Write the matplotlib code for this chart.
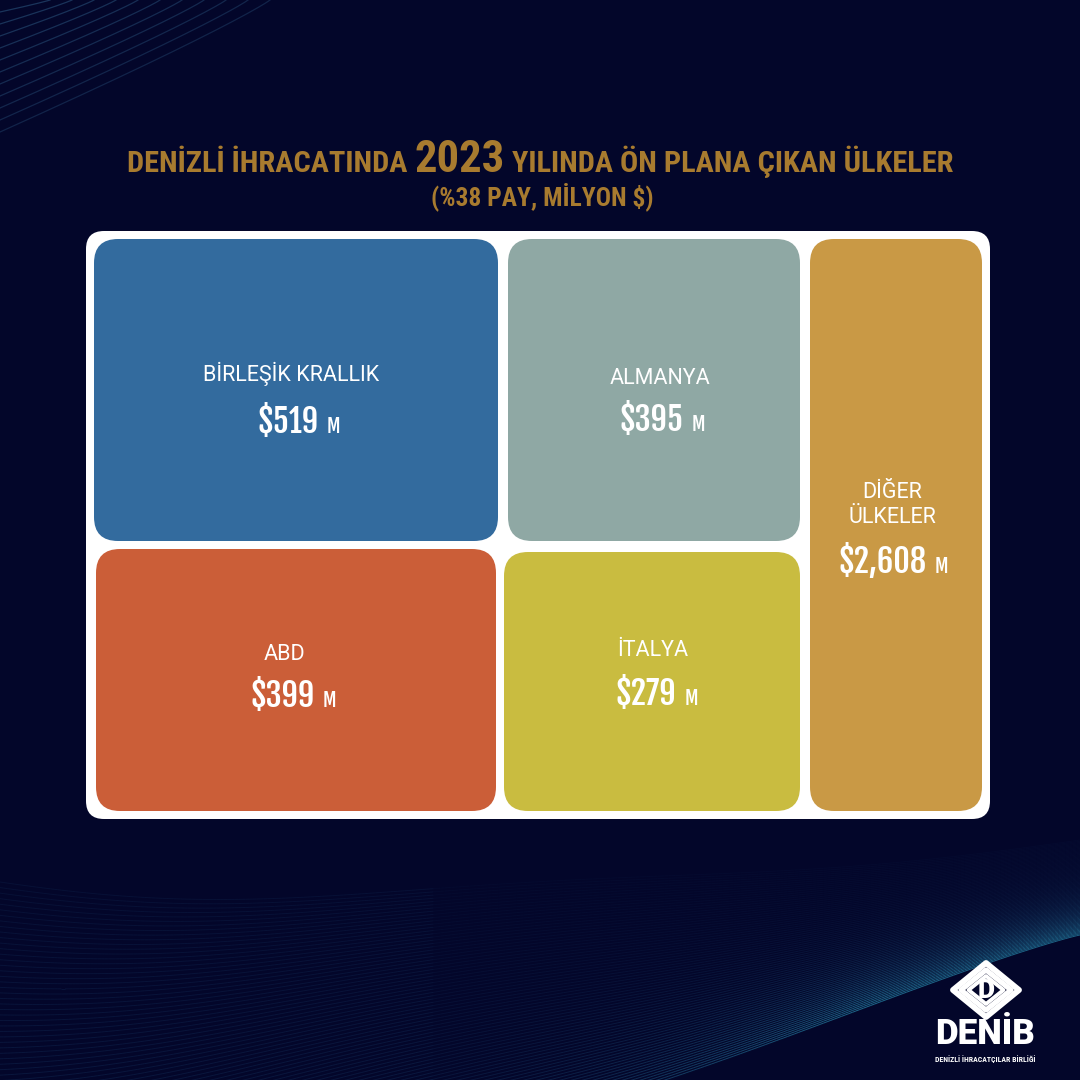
import numpy as np
import matplotlib
matplotlib.use("Agg")
import matplotlib.pyplot as plt
from matplotlib.patches import FancyBboxPatch, Polygon
from matplotlib.collections import LineCollection
from matplotlib.colors import to_rgb

# ---- data ----
countries = ["BİRLEŞİK KRALLIK", "ALMANYA", "ABD", "İTALYA", "DİĞER\nÜLKELER"]
values = [519, 395, 399, 279, 2608]
colors = ["#336b9e", "#8fa8a4", "#cb5e38", "#c9bc40", "#c99945"]

title_left = "DENİZLİ İHRACATINDA "
title_year = "2023"
title_right = " YILINDA ÖN PLANA ÇIKAN ÜLKELER"
subtitle = "(%38 PAY, MİLYON $)"

# ---- layout (pixel boxes: x0, y0(top), x1, y1(bottom)) ----
cell_boxes = [(94, 239, 498, 541), (508, 239, 800, 541), (96, 549, 496, 811),
              (504, 552, 800, 811), (810, 239, 982, 811)]
label_pos = [(291, 374), (660, 379), (284, 654), (653, 651), (892, 505)]
value_pos = [(299, 418), (662, 416), (293, 692), (657, 690), (893, 558)]

BG = "#03062a"
fig = plt.figure(figsize=(10.8, 10.8), dpi=100, facecolor=BG)
ax = fig.add_axes([0, 0, 1, 1])
ax.set_xlim(0, 1080)
ax.set_ylim(0, 1080)
ax.axis("off")
ax.set_facecolor(BG)

def Y(y):
    return 1080 - y

# ---- decorative background waves (bottom sheet) ----
xs = np.linspace(0, 1080, 300)
u = xs / 1080
top = 882 + 60 * u - 102 * u ** 2
span = 95 + 320 * (1 - u) ** 1.2
dim = np.array(to_rgb("#1d4674"))
bright = np.array(to_rgb("#2a92b4"))
segs, cols = [], []
n = 80
for i in range(n):
    t = i / (n - 1)
    ys = top + t * span + 12 * np.sin(2 * np.pi * u * 1.3 + t * 2) * (1 - u)
    pts = np.column_stack([xs, Y(ys)])
    s = np.stack([pts[:-1], pts[1:]], axis=1)
    um = (u[:-1] + u[1:]) / 2
    w = np.clip((um - 0.3) / 0.5, 0, 1) ** 1.5 * t ** 2.5
    c = dim[None, :] * (1 - w[:, None]) + bright[None, :] * w[:, None]
    a = 0.16 + 0.22 * t * (1 - um) + 0.5 * w
    a = a * np.clip(1 - (1 - t) * 0.6 * (um > 0.4), 0.3, 1)
    segs.append(s)
    cols.append(np.column_stack([c, np.clip(a, 0, 1)]))
ax.add_collection(LineCollection(np.concatenate(segs), colors=np.concatenate(cols),
                                 linewidths=0.7, zorder=1))

# ---- top-left corner arcs ----
for k in range(11):
    yk = 12 + 12 * k
    xk = 50 + 22 * k
    xa = np.linspace(0, xk, 150)
    ya = yk * (1 - xa / xk) ** 0.92
    ax.plot(xa, Y(ya), color="#2d5b84", lw=0.9, alpha=0.55 - 0.02 * k, zorder=1)

# ---- title ----
tcol = "#a87b2f"
fig.canvas.draw()
r = fig.canvas.get_renderer()
kw = dict(fontfamily="Roboto Condensed", fontweight="bold", color=tcol, va="baseline", zorder=5)
base_fs = 20
t1 = ax.text(0, 0, title_left, fontsize=base_fs, **kw)
t2 = ax.text(0, 0, title_year, fontsize=base_fs * 1.47, **kw)
t3 = ax.text(0, 0, title_right, fontsize=base_fs, **kw)
ws = [t.get_window_extent(renderer=r).width for t in (t1, t2, t3)]
scale = 828 / sum(ws)
for t in (t1, t2, t3):
    t.set_fontsize(t.get_fontsize() * scale)
ws = [t.get_window_extent(renderer=r).width for t in (t1, t2, t3)]
x = 540 - sum(ws) / 2
for t, w in zip((t1, t2, t3), ws):
    t.set_position((x, Y(172)))
    x += w
st = ax.text(542, Y(197), subtitle, fontsize=base_fs * scale, ha="center", va="center",
             fontfamily="Roboto Condensed", fontweight="bold", color=tcol, zorder=5)
sw = st.get_window_extent(renderer=r).width
st.set_fontsize(st.get_fontsize() * 222 / sw)

# ---- white panel ----
px0, py0, px1, py1 = 86, 231, 990, 819
ax.add_patch(FancyBboxPatch((px0 + 18, Y(py1) + 18), px1 - px0 - 36, py1 - py0 - 36,
                            boxstyle="round,pad=18", fc="white", ec="none", zorder=2))

# ---- cells ----
rad = 24
for (x0, y0, x1, y1), c in zip(cell_boxes, colors):
    ax.add_patch(FancyBboxPatch((x0 + rad, Y(y1) + rad), x1 - x0 - 2 * rad, y1 - y0 - 2 * rad,
                                boxstyle=f"round,pad={rad}", fc=c, ec="none", zorder=3))

# value font size so that "$519" is ~61 px wide
probe = ax.text(0, 0, "$519", fontsize=25, fontfamily="Fjalla One")
vfs = 25 * 61 / probe.get_window_extent(renderer=r).width
probe.remove()

for name, v, (lx, ly), (vx, vy) in zip(countries, values, label_pos, value_pos):
    ax.text(lx, Y(ly), name, fontsize=15.5, color="white", ha="center", va="center",
            fontfamily="Roboto", linespacing=1.3, zorder=6)
    tv = ax.text(0, 0, f"${v:,}", fontsize=vfs, color="white", ha="left", va="baseline",
                 fontfamily="Fjalla One", zorder=6)
    tm = ax.text(0, 0, "M", fontsize=vfs * 0.6, color="white", ha="left", va="baseline",
                 fontfamily="Fjalla One", zorder=6)
    w1 = tv.get_window_extent(renderer=r).width
    w2 = tm.get_window_extent(renderer=r).width
    gap = 8
    start = vx - (w1 + gap + w2) / 2
    tv.set_position((start, Y(vy) - 15))
    tm.set_position((start + w1 + gap, Y(vy) - 15))

# ---- logo ----
cx, cy = 986, 990
for sx, sy, lw in [(33, 27, 4.2), (25, 20, 3.8), (17.5, 14, 2.8)]:
    ax.add_patch(Polygon([(cx, Y(cy - sy)), (cx + sx, Y(cy)), (cx, Y(cy + sy)), (cx - sx, Y(cy))],
                         closed=True, fill=False, ec="white", lw=lw, joinstyle="round", zorder=6))
ax.text(cx, Y(cy + 1), "D", fontsize=19, color="white", fontweight="black", ha="center", va="center",
        fontfamily="Roboto", zorder=7)
lg = ax.text(985, Y(1035), "DENİB", fontsize=24, color="white", fontweight="black", ha="center",
             va="center", fontfamily="Roboto", zorder=7)
lw_ = lg.get_window_extent(renderer=r).width
lg.set_fontsize(24 * 100 / lw_)
sb = ax.text(985, Y(1059), "DENİZLİ İHRACATÇILAR BİRLİĞİ", fontsize=4.3, color="white",
             fontweight="bold", ha="center", va="center", fontfamily="Roboto Condensed", zorder=7)
sbw = sb.get_window_extent(renderer=r).width
sb.set_fontsize(4.3 * 100 / sbw)

fig.savefig("out.png", dpi=100, facecolor=BG)
